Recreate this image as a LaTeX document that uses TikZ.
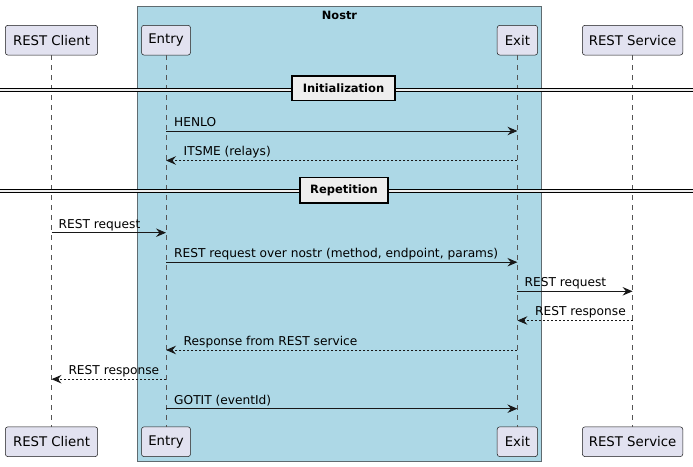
\documentclass[tikz,border=0pt]{standalone}
\usepackage{fontspec}
\setmainfont{DejaVu Sans}
\usetikzlibrary{arrows.meta,calc}
\definecolor{pfill}{HTML}{E2E2F0}
\definecolor{pline}{HTML}{181818}
\definecolor{boxblue}{HTML}{ADD8E6}
\definecolor{boxline}{HTML}{5F6B70}
\definecolor{divfill}{HTML}{EEEEEE}
\definecolor{lifeline}{HTML}{555555}
\tikzset{
  partbox/.style={draw=pline, fill=pfill, line width=0.5pt, rounded corners=2.5pt,
    minimum height=29.7pt, inner sep=0pt, font=\fontsize{13.3}{15}\selectfont, text=black},
  lifel/.style={draw=lifeline, line width=0.5pt, dash pattern=on 5pt off 5pt},
  msg/.style={draw=pline, line width=0.9pt, -{Stealth[length=10pt,width=8.5pt,inset=3.5pt]}},
  rmsg/.style={msg, dash pattern=on 2pt off 2pt},
  lbl/.style={font=\fontsize{12.2}{14}\selectfont, inner sep=0pt, anchor=base west, text=black},
  divband/.style={fill=divfill, draw=none},
  divline/.style={draw=black, line width=0.9pt},
  divbox/.style={draw=black, fill=divfill, line width=1.6pt, inner sep=0pt,
    font=\fontsize{11.5}{13}\bfseries\selectfont, text=black}
}
\begin{document}
\begin{tikzpicture}[x=1pt,y=-1pt]
\useasboundingbox (0,0) rectangle (693,466);
\fill[white] (0,0) rectangle (693,466);
% Nostr box
\draw[fill=boxblue, draw=boxline, line width=0.6pt] (137.3,6) rectangle (541.5,461);
\node[font=\fontsize{11.4}{13}\bfseries\selectfont, inner sep=0pt, anchor=base] (title) at (339.5,19.5) {Nostr};
% participants
\node[partbox, minimum width=92.3pt] (cT) at (51.5,40.2) {REST Client};
\node[partbox, minimum width=49pt] (eT) at (166,40.2) {Entry};
\node[partbox, minimum width=40.4pt] (xT) at (517.4,40.2) {Exit};
\node[partbox, minimum width=100.4pt] (sT) at (632.6,40.2) {REST Service};
\node[partbox, minimum width=92.3pt] (cB) at (51.5,441.7) {REST Client};
\node[partbox, minimum width=49pt] (eB) at (166,441.7) {Entry};
\node[partbox, minimum width=40.4pt] (xB) at (517.4,441.7) {Exit};
\node[partbox, minimum width=100.4pt] (sB) at (632.6,441.7) {REST Service};
% lifelines
\draw[lifel] (cT.south) -- (cB.north);
\draw[lifel] (eT.south) -- (eB.north);
\draw[lifel] (xT.south) -- (xB.north);
\draw[lifel] (sT.south) -- (sB.north);
% dividers
\coordinate (d1l) at (0,88.2);
\coordinate (d1r) at (693,91.2);
\fill[divband] (d1l) rectangle (d1r);
\draw[divline] (d1l) -- (d1l -| d1r);
\draw[divline] (d1l |- d1r) -- (d1r);
\node[divbox, minimum width=103pt, minimum height=24.5pt] (init) at (343.5,88.3) {Initialization};
\coordinate (d2l) at (0,189.3);
\coordinate (d2r) at (693,192.3);
\fill[divband] (d2l) rectangle (d2r);
\draw[divline] (d2l) -- (d2l -| d2r);
\draw[divline] (d2l |- d2r) -- (d2r);
\node[divbox, minimum width=88pt, minimum height=25.5pt] (rep) at (344,190.3) {Repetition};
% message rows
\coordinate (m1) at (0,131);
\coordinate (m2) at (0,160.5);
\coordinate (m3) at (0,232.7);
\coordinate (m4) at (0,262.2);
\coordinate (m5) at (0,291.3);
\coordinate (m6) at (0,320.5);
\coordinate (m7) at (0,350);
\coordinate (m8) at (0,379.2);
\coordinate (m9) at (0,408.7);
% messages
\draw[msg] (eT |- m1) -- (xT |- m1);
\node[lbl] (l1) at ([xshift=8pt,yshift=4.6pt]eT |- m1) {HENLO};
\draw[rmsg] (xT |- m2) -- (eT |- m2);
\node[lbl] (l2) at ([xshift=17.5pt,yshift=4.6pt]eT |- m2) {ITSME (relays)};
\draw[msg] (cT |- m3) -- (eT |- m3);
\node[lbl] (l3) at ([xshift=7pt,yshift=4.6pt]cT |- m3) {REST request};
\draw[msg] (eT |- m4) -- (xT |- m4);
\node[lbl] (l4) at ([xshift=8pt,yshift=4.6pt]eT |- m4) {REST request over nostr (method, endpoint, params)};
\draw[msg] (xT |- m5) -- (sT |- m5);
\node[lbl] (l5) at ([xshift=7pt,yshift=4.6pt]xT |- m5) {REST request};
\draw[rmsg] (sT |- m6) -- (xT |- m6);
\node[lbl] (l6) at ([xshift=17.5pt,yshift=4.6pt]xT |- m6) {REST response};
\draw[rmsg] (xT |- m7) -- (eT |- m7);
\node[lbl] (l7) at ([xshift=17.5pt,yshift=4.6pt]eT |- m7) {Response from REST service};
\draw[rmsg] (eT |- m8) -- (cT |- m8);
\node[lbl] (l8) at ([xshift=16.8pt,yshift=4.6pt]cT |- m8) {REST response};
\draw[msg] (eT |- m9) -- (xT |- m9);
\node[lbl] (l9) at ([xshift=8pt,yshift=4.6pt]eT |- m9) {GOTIT (eventId)};
\end{tikzpicture}
\end{document}
